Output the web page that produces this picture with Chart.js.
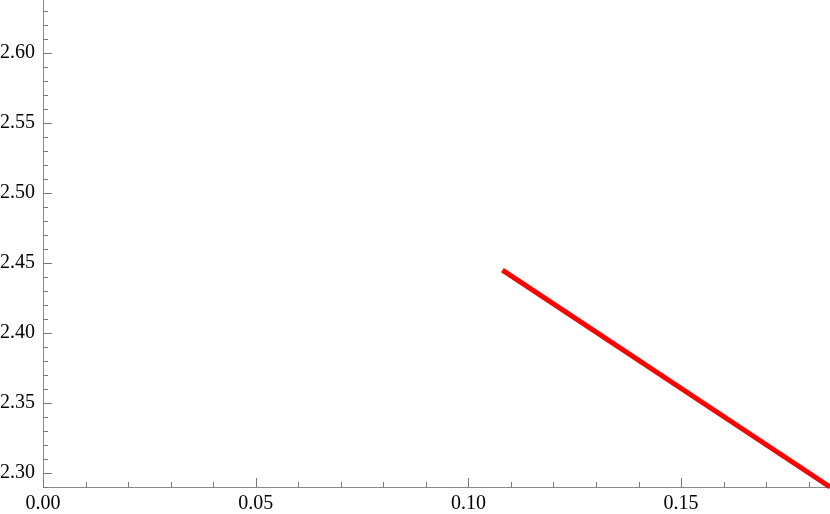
<!DOCTYPE html>
<html>
<head>
<meta charset="utf-8">
<script src="https://cdn.jsdelivr.net/npm/chart.js@4.4.1/dist/chart.umd.min.js"></script>
<style>
  html, body { margin: 0; padding: 0; background: #fff; }
  #wrap { width: 830px; height: 514px; }
</style>
</head>
<body>
<div id="wrap"><canvas id="plot"></canvas></div>
<script>
  // line
  const lineX = [0.108, 0.185];
  const lineY = [2.445, 2.290];

  // axis ranges and tick labels
  const xMin = 0, xMax = 0.185;
  const yMin = 2.29, yMax = 2.638;
  const xMajor = [0.00, 0.05, 0.10, 0.15];
  const yMajor = [2.30, 2.35, 2.40, 2.45, 2.50, 2.55, 2.60];
  const minorStep = 0.01;

  const isMajor = (v, list) => list.some(m => Math.abs(m - v) < 1e-9);
  const stepList = (lo, hi) => {
    const out = [];
    for (let i = Math.ceil(lo / minorStep - 1e-9); i * minorStep <= hi + 1e-9; i++) out.push(+(i * minorStep).toFixed(2));
    return out;
  };

  // inward tick marks, Mathematica style
  const innerTicks = {
    id: 'innerTicks',
    beforeDatasetsDraw(chart) {
      const { ctx, chartArea, scales } = chart;
      ctx.save();
      ctx.strokeStyle = '#777';
      ctx.lineWidth = 1;
      ctx.beginPath();
      scales.x.ticks.forEach(t => {
        const px = Math.round(scales.x.getPixelForValue(t.value)) + 0.5;
        const len = isMajor(t.value, xMajor) ? 9 : 5;
        ctx.moveTo(px, chartArea.bottom);
        ctx.lineTo(px, chartArea.bottom - len);
      });
      scales.y.ticks.forEach(t => {
        const py = Math.round(scales.y.getPixelForValue(t.value)) + 0.5;
        const len = isMajor(t.value, yMajor) ? 9 : 5;
        ctx.moveTo(chartArea.left, py);
        ctx.lineTo(chartArea.left + len, py);
      });
      ctx.stroke();
      ctx.restore();
    }
  };

  const tickFont = { family: 'Liberation Serif', size: 20 };

  new Chart(document.getElementById('plot'), {
    type: 'scatter',
    data: {
      datasets: [{
        data: lineX.map((x, i) => ({ x, y: lineY[i] })),
        showLine: true,
        borderColor: '#ff0000',
        borderWidth: 5,
        pointRadius: 0,
        clip: false
      }]
    },
    options: {
      responsive: true,
      maintainAspectRatio: false,
      animation: false,
      layout: { padding: 0 },
      plugins: { legend: { display: false }, tooltip: { enabled: false } },
      scales: {
        x: {
          type: 'linear',
          min: xMin, max: xMax,
          afterBuildTicks: s => { s.ticks = stepList(xMin, xMax).map(v => ({ value: v })); },
          afterFit: s => { s.height = 27; s.paddingLeft = 0; s.paddingRight = 0; },
          grid: { drawOnChartArea: false, drawTicks: false },
          border: { color: '#888', width: 1 },
          ticks: {
            autoSkip: false, maxRotation: 0, padding: 5,
            color: '#000', font: tickFont,
            callback: v => isMajor(v, xMajor) ? v.toFixed(2) : ''
          }
        },
        y: {
          type: 'linear',
          min: yMin, max: yMax,
          afterBuildTicks: s => { s.ticks = stepList(yMin, yMax).map(v => ({ value: v })); },
          afterFit: s => { s.width = 43; s.paddingTop = 0; s.paddingBottom = 0; },
          grid: { drawOnChartArea: false, drawTicks: false },
          border: { color: '#888', width: 1 },
          ticks: {
            autoSkip: false, padding: 8,
            color: '#000', font: tickFont,
            callback: v => isMajor(v, yMajor) ? v.toFixed(2) : ''
          }
        }
      }
    },
    plugins: [innerTicks]
  });
</script>
</body>
</html>
